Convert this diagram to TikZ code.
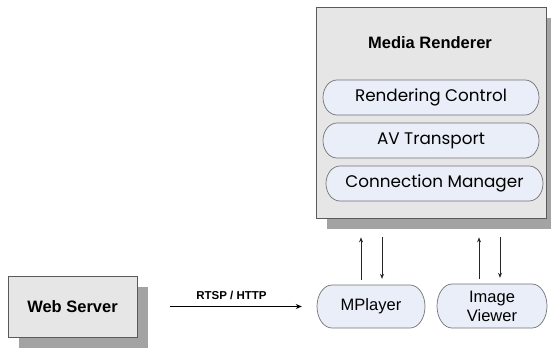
\documentclass[tikz,border=0pt]{standalone}
\usepackage{fontspec}
\setmainfont{Liberation Sans}
\newfontfamily\gothic{Poppins}
\usetikzlibrary{arrows.meta,shadows}

\definecolor{boxfill}{HTML}{E6E6E6}
\definecolor{boxline}{HTML}{5A5A5A}
\definecolor{shadowgray}{HTML}{A3A3A3}
\definecolor{pillfill}{HTML}{E9EEF8}
\definecolor{pillline}{HTML}{727272}

\tikzset{
  greybox/.style={draw=boxline, line width=0.8pt, fill=boxfill, inner sep=0pt,
    drop shadow={shadow xshift=11pt, shadow yshift=-11pt, fill=shadowgray, opacity=1}},
  boxtitle/.style={font=\bfseries\fontsize{16.5}{18}\selectfont, inner sep=0pt},
  pillbody/.style={draw=pillline, line width=0.7pt, fill=pillfill},
  pilltext/.style={inner sep=0pt, align=center},
  servicetext/.style={font=\gothic\fontsize{16.8}{19}\selectfont},
  apptext/.style={font=\fontsize{16.5}{19}\selectfont},
  flow/.style={draw=black!85, line width=0.7pt, -{Stealth[length=5pt,width=4pt]}},
  stream/.style={draw=black, line width=1.1pt, -{Stealth[length=6pt,width=5pt]}},
  protolabel/.style={font=\bfseries\fontsize{11.5}{13}\selectfont, inner sep=0pt}
}

% capsule with elliptical ends: name, cx, cy, half width, half height, end radius, style, text
\newcommand\capsule[8]{%
  \filldraw[pillbody] ({#2-#4+#6},{#3-#5}) -- ({#2+#4-#6},{#3-#5})
    arc[start angle=90, end angle=-90, x radius=#6pt, y radius=#5pt]
    -- ({#2-#4+#6},{#3+#5})
    arc[start angle=-90, end angle=-270, x radius=#6pt, y radius=#5pt] -- cycle;
  \node[pilltext, #7, minimum width=#4pt*2, minimum height=#5pt*2] (#1) at (#2,#3) {#8};
}

\begin{document}
\begin{tikzpicture}[x=1pt, y=-1pt]
  \useasboundingbox (0,0) rectangle (551,349);

  % renderer device
  \node[greybox, minimum width=230pt, minimum height=211pt] (renderer) at (431,112.5) {};
  \node[boxtitle] (title) at (430,43) {Media Renderer};

  % renderer services
  \capsule{rc}{431}{97.5}{108}{17.5}{14}{servicetext}{Rendering Control}
  \capsule{av}{431}{140.5}{108}{17.5}{14}{servicetext}{AV Transport}
  \capsule{cm}{434.5}{183.5}{108.5}{17.5}{14}{servicetext}{Connection Manager}

  % server
  \node[greybox, minimum width=129pt, minimum height=61pt] (web) at (72.5,306.5) {};
  \node[boxtitle] (webtitle) at (72.5,306.5) {Web Server};

  % player applications
  \capsule{mplayer}{371}{306.5}{54}{21.5}{15}{apptext}{MPlayer}
  \capsule{viewer}{492}{306}{55}{22}{15}{apptext}{Image\\Viewer}

  % streaming link
  \draw[stream, shorten <=33pt, shorten >=15pt] (web.east) -- (mplayer.west);
  \node[protolabel] (proto) at (231.5,295) {RTSP / HTTP};

  % control links to the renderer
  \draw[flow, shorten >=19pt] ([xshift=-10pt,yshift=5pt]mplayer.north) -- ([xshift=-10pt]mplayer.north |- renderer.south);
  \draw[flow, shorten <=19pt] ([xshift=11pt]mplayer.north |- renderer.south) -- ([xshift=11pt,yshift=6pt]mplayer.north);
  \draw[flow, shorten >=19pt] ([xshift=-13pt,yshift=5pt]viewer.north) -- ([xshift=-13pt]viewer.north |- renderer.south);
  \draw[flow, shorten <=19pt] ([xshift=8pt]viewer.north |- renderer.south) -- ([xshift=8pt,yshift=6pt]viewer.north);
\end{tikzpicture}
\end{document}
